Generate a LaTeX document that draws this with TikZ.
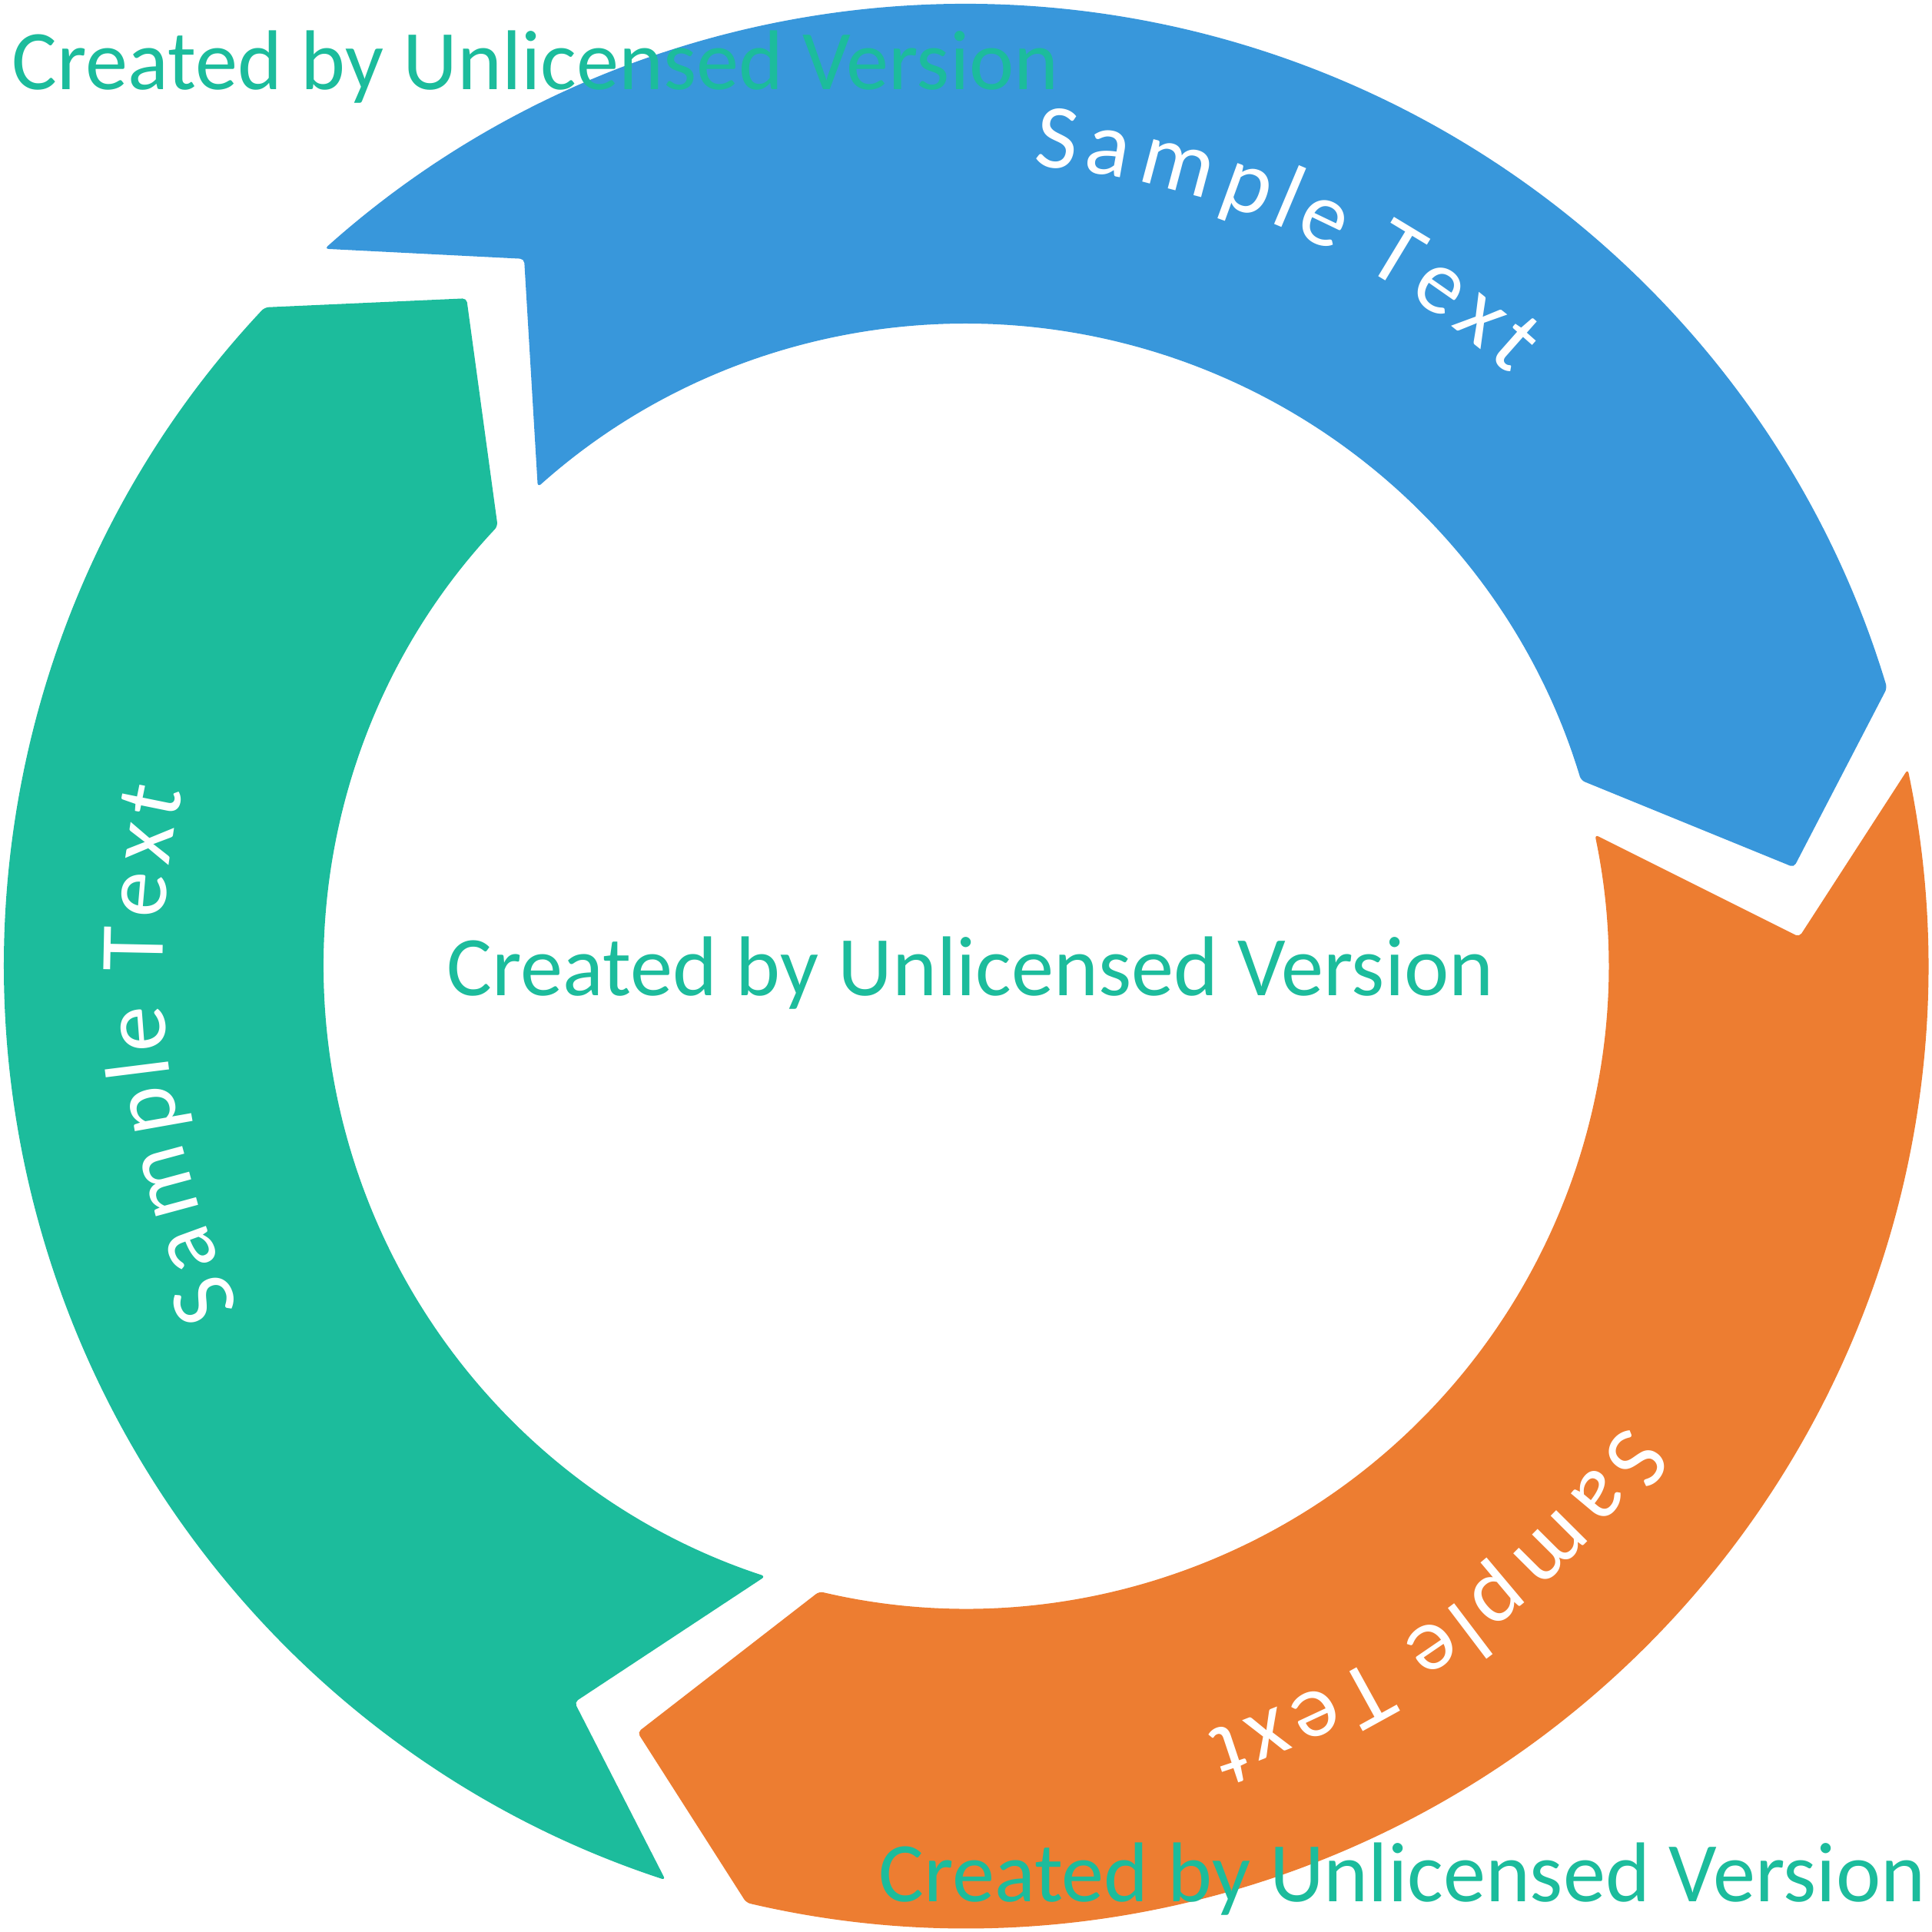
\documentclass[tikz,border=0pt]{standalone}
\usepackage{fontspec}
\setmainfont{Carlito}
\usetikzlibrary{decorations.text}

\definecolor{segblue}{RGB}{56,151,219}
\definecolor{segorange}{RGB}{237,125,49}
\definecolor{seggreen}{RGB}{28,188,156}
\newcommand{\labelfont}{\fontsize{34}{34}\selectfont}
\newcommand{\markfont}{\fontsize{31.4}{31.4}\selectfont}

\begin{document}
\begin{tikzpicture}
		\tikzset{segment/.style = {rounded corners=1.5pt}}
		\tikzset{curved/.style = {decorate, decoration={text effects along path, text={Sample Text},
				text effects/.cd, text along path, fit text to path, characters={text=white, font=\labelfont}, character widths={font=\labelfont, inner xsep=0pt}}}}
		\tikzset{watermark/.style = {text=seggreen, font=\markfont, inner sep=0pt}}
		\useasboundingbox (-12.57,-12.57) rectangle (12.57,12.57);
		% segments
		\fill[segblue, segment] (131.8:12.52) arc[start angle=131.8, end angle=16.8, radius=12.52] -- (6.8:10.85)
			-- (16.8:8.36) arc[start angle=16.8, end angle=131.8, radius=8.36] -- (122.0:10.85) -- cycle;
		\fill[segorange, segment] (11.8:12.52) arc[start angle=11.8, end angle=-103.2, radius=12.52] -- (-113.2:10.85)
			-- (-103.2:8.36) arc[start angle=-103.2, end angle=11.8, radius=8.36] -- (2.0:10.85) -- cycle;
		\fill[seggreen, segment] (-108.2:12.52) arc[start angle=-108.2, end angle=-223.2, radius=12.52] -- (-233.2:10.85)
			-- (-223.2:8.36) arc[start angle=-223.2, end angle=-108.2, radius=8.36] -- (-118.0:10.85) -- cycle;
		% labels
		\path[curved] (85.2:10.45) arc[start angle=85.2, end angle=47.4, radius=10.45];
		\path[curved] (-34.8:10.45) arc[start angle=-34.8, end angle=-72.6, radius=10.45];
		\path[curved] (205.2:10.45) arc[start angle=205.2, end angle=167.4, radius=10.45];
		% marks
		\node[watermark, anchor=base west] (wmTop) at (-12.42,11.40) {Created by Unlicensed Version};
		\node[watermark, anchor=base west] (wmCenter) at (-6.76,-0.39) {Created by Unlicensed Version};
		\node[watermark, anchor=base east] (wmBottom) at (12.49,-12.17) {Created by Unlicensed Version};
\end{tikzpicture}
\end{document}
